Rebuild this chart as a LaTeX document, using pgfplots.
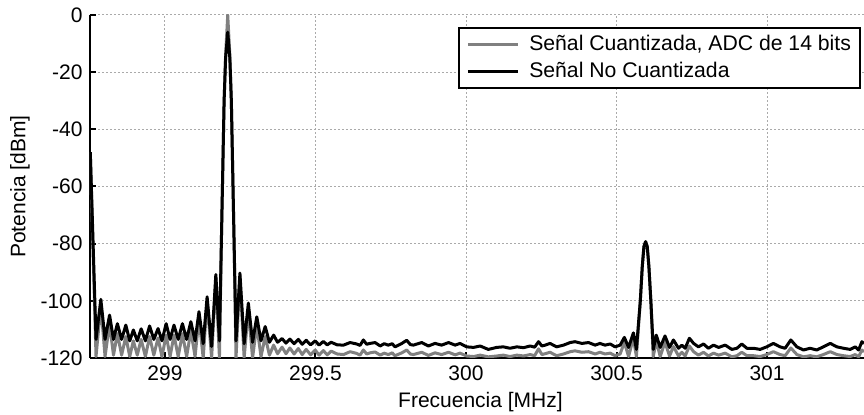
\documentclass[border=0pt]{standalone}
\usepackage{fontspec}
\setmainfont{Liberation Sans}
\usepackage{pgfplots}
\pgfplotsset{compat=1.18}
\definecolor{qgray}{RGB}{128,128,128}
\definecolor{gridgray}{RGB}{170,170,170}
\begin{document}
\fontsize{10.5}{12.6}\selectfont
\begin{tikzpicture}
\begin{axis}[
  scale only axis, width=387pt, height=171.5pt,
  xmin=298.751, xmax=301.322, ymin=-120, ymax=0,
  axis lines*=left, axis line style={line width=1pt},
  xtick={299,299.5,300,300.5,301}, ytick={-120,-100,...,0},
  major tick length=3pt, every tick/.style={black, line width=1pt},
  tick align=inside,
  grid=major, grid style={gridgray, line width=0.5pt, dash pattern=on 1pt off 1pt},
  /pgf/number format/assume math mode=true,
  ticklabel style={font=\fontsize{10.5}{12.6}\selectfont},
  xlabel={Frecuencia [MHz]}, ylabel={Potencia [dBm]},
  every axis x label/.style={at={(axis description cs:0.5045,-0.128)}, anchor=center},
  every axis y label/.style={at={(axis description cs:-0.0904,0.5)}, anchor=center, rotate=90},
  legend style={at={(rel axis cs:1,1)}, anchor=north east, xshift=-1.5pt, yshift=-6pt,
    draw=black, line width=1pt, fill=white, font=\fontsize{10.6}{12.6}\selectfont,
    inner xsep=2.5pt, inner ysep=1.5pt, row sep=0.5pt},
  legend cell align=left,
  legend image code/.code={\draw[#1] (1pt,0pt) -- (26pt,0pt); \path (0pt,0pt) (29pt,0pt);},
]
\addplot[qgray, line width=1.5pt, line join=round] coordinates {
(298.752,-48) (298.771,-119.5) (298.787,-101.5) (298.801,-119.5) (298.816,-108) (298.829,-119)
(298.842,-111.5) (298.856,-119) (298.870,-112.5) (298.883,-119.5) (298.895,-114) (298.908,-119)
(298.921,-113.5) (298.935,-119.5) (298.949,-112.5) (298.963,-119) (298.977,-113) (298.990,-119.5)
(299.004,-112) (299.017,-119.5) (299.030,-112) (299.044,-119.5) (299.058,-111.5) (299.072,-119.5)
(299.086,-110.5) (299.100,-119.5) (299.113,-106) (299.127,-120) (299.140,-100) (299.155,-120)
(299.169,-92) (299.181,-120) (299.188,-76) (299.1965,-30) (299.2015,-14) (299.2085,0)
(299.2155,-14) (299.2205,-30) (299.229,-76) (299.236,-120) (299.249,-91.5) (299.263,-120)
(299.277,-103) (299.291,-120) (299.305,-108.5) (299.319,-119.5) (299.333,-112.5) (299.347,-119)
(299.361,-115.5) (299.374,-118.5)
(299.389,-116.2) (299.402,-118.5) (299.415,-116.5) (299.429,-118.6) (299.443,-116.7) (299.456,-118.8)
(299.469,-117.0) (299.484,-118.9) (299.499,-117.2) (299.512,-119.0) (299.526,-117.4) (299.539,-118.9)
(299.552,-117.6) (299.572,-118.6) (299.593,-118.8) (299.615,-117.8) (299.637,-118.4) (299.648,-119.0)
(299.659,-117.2) (299.670,-118.6) (299.681,-118.2) (299.698,-117.9) (299.715,-119.0) (299.728,-118.3)
(299.742,-118.8) (299.755,-118.2) (299.764,-119.2) (299.787,-118.2) (299.803,-117.2) (299.815,-118.6)
(299.825,-118.8) (299.853,-118.0) (299.875,-119.1) (299.897,-118.2) (299.919,-118.8) (299.942,-118.0)
(299.964,-118.9) (299.980,-118.3) (300.002,-119.3) (300.025,-119.5) (300.047,-119.0) (300.074,-119.6)
(300.102,-119.3) (300.124,-119.0) (300.146,-119.5) (300.169,-119.0) (300.191,-119.3) (300.213,-118.8)
(300.228,-119.2) (300.241,-116.8) (300.252,-118.8) (300.263,-118.5) (300.279,-118.0) (300.301,-119.2)
(300.324,-118.6) (300.346,-117.8) (300.362,-117.5) (300.385,-118.0) (300.407,-117.8) (300.429,-118.6)
(300.445,-118.0) (300.462,-118.6) (300.479,-118.3) (300.495,-119.2) (300.512,-118.6) (300.526,-114.5)
(300.540,-119.5) (300.556,-113.0) (300.566,-119.5) (300.579,-100) (300.5855,-88) (300.591,-81)
(300.5965,-79.3) (300.602,-81) (300.6075,-88) (300.614,-100) (300.622,-119.5) (300.632,-114.0)
(300.645,-119.5) (300.661,-114.5) (300.676,-119.3) (300.689,-116.0) (300.706,-119.3) (300.717,-118.0)
(300.728,-119.3) (300.742,-115.8) (300.756,-117.8) (300.772,-119.0) (300.789,-118.0) (300.805,-119.3)
(300.822,-118.3) (300.839,-119.0) (300.861,-118.3) (300.883,-119.6) (300.900,-119.2) (300.916,-118.0)
(300.933,-119.2) (300.955,-119.2) (300.977,-119.5) (300.999,-118.8) (301.021,-117.8) (301.043,-118.8)
(301.060,-119.2) (301.079,-116.5) (301.099,-118.8) (301.121,-119.6) (301.143,-119.2) (301.165,-119.6)
(301.187,-118.8) (301.210,-117.8) (301.232,-118.8) (301.254,-119.2) (301.276,-119.5) (301.293,-118.8)
(301.304,-119.6) (301.315,-117.2) (301.322,-117.8)
};
\addlegendentry{Señal Cuantizada, ADC de 14 bits}
\addplot[black, line width=1.5pt, line join=round] coordinates {
(298.752,-48) (298.771,-113.5) (298.787,-99.5) (298.801,-113.5) (298.816,-105) (298.829,-113.5)
(298.842,-108) (298.856,-113.5) (298.870,-108.5) (298.883,-114) (298.895,-110.2) (298.908,-114)
(298.921,-109.8) (298.935,-114) (298.949,-108.8) (298.963,-113.5) (298.977,-109.7) (298.990,-114)
(299.004,-108) (299.017,-113.5) (299.030,-108.5) (299.044,-113.5) (299.058,-108) (299.072,-113.5)
(299.086,-107.3) (299.100,-114) (299.113,-103.8) (299.127,-115) (299.140,-98.6) (299.155,-116)
(299.169,-90.8) (299.181,-114) (299.188,-76) (299.1965,-30) (299.2015,-15) (299.2085,-6)
(299.2155,-15) (299.2205,-30) (299.229,-76) (299.236,-114) (299.249,-90.3) (299.263,-115)
(299.277,-100.8) (299.291,-114.5) (299.305,-105.6) (299.319,-114) (299.333,-109) (299.347,-114.5)
(299.361,-112) (299.374,-114.5)
(299.389,-113.2) (299.402,-114.8) (299.415,-113.4) (299.429,-115.0) (299.443,-113.5) (299.456,-115.2)
(299.469,-113.8) (299.484,-115.4) (299.499,-114.0) (299.512,-115.5) (299.526,-114.2) (299.539,-115.4)
(299.552,-114.5) (299.572,-115.4) (299.593,-115.5) (299.615,-114.6) (299.637,-115.1) (299.648,-115.6)
(299.659,-113.7) (299.670,-115.2) (299.681,-114.9) (299.698,-114.6) (299.715,-115.8) (299.728,-115.0)
(299.742,-115.5) (299.755,-115.0) (299.764,-116.1) (299.787,-114.9) (299.803,-113.8) (299.815,-115.3)
(299.825,-115.5) (299.853,-114.6) (299.875,-115.8) (299.897,-114.9) (299.919,-115.5) (299.942,-114.6)
(299.964,-115.5) (299.980,-114.9) (300.002,-116.1) (300.025,-116.3) (300.047,-115.8) (300.074,-117.0)
(300.102,-116.3) (300.124,-116.1) (300.146,-116.6) (300.169,-116.1) (300.191,-116.4) (300.213,-115.8)
(300.228,-116.2) (300.241,-114.3) (300.252,-115.8) (300.263,-115.5) (300.279,-114.9) (300.301,-116.1)
(300.324,-115.5) (300.346,-114.6) (300.362,-114.3) (300.385,-114.9) (300.407,-114.6) (300.429,-115.5)
(300.445,-114.9) (300.462,-115.5) (300.479,-115.1) (300.495,-116.1) (300.512,-115.5) (300.526,-112.8)
(300.540,-116.3) (300.556,-111.2) (300.566,-117) (300.579,-100) (300.5855,-88) (300.591,-81)
(300.5965,-79.3) (300.602,-81) (300.6075,-88) (300.614,-100) (300.622,-117) (300.632,-112.0)
(300.645,-116.3) (300.661,-112.3) (300.676,-116.3) (300.689,-113.7) (300.706,-116.6) (300.717,-115.5)
(300.728,-116.6) (300.742,-113.1) (300.756,-114.9) (300.772,-116.1) (300.789,-115.1) (300.805,-116.6)
(300.822,-115.5) (300.839,-116.3) (300.861,-115.5) (300.883,-117.0) (300.900,-116.6) (300.916,-115.1)
(300.933,-116.6) (300.955,-116.6) (300.977,-117.0) (300.999,-116.1) (301.021,-114.9) (301.043,-116.1)
(301.060,-116.6) (301.079,-113.7) (301.099,-116.1) (301.121,-117.2) (301.143,-116.6) (301.165,-117.2)
(301.187,-116.1) (301.210,-114.9) (301.232,-116.1) (301.254,-116.6) (301.276,-117.0) (301.293,-116.1)
(301.304,-117.2) (301.315,-114.3) (301.322,-114.9)
};
\addlegendentry{Señal No Cuantizada}
\end{axis}
\pgfresetboundingbox
\path ([xshift=-45pt,yshift=-28.5pt]current axis.south west) rectangle ([yshift=7.5pt]current axis.north east);
\end{tikzpicture}
\end{document}
